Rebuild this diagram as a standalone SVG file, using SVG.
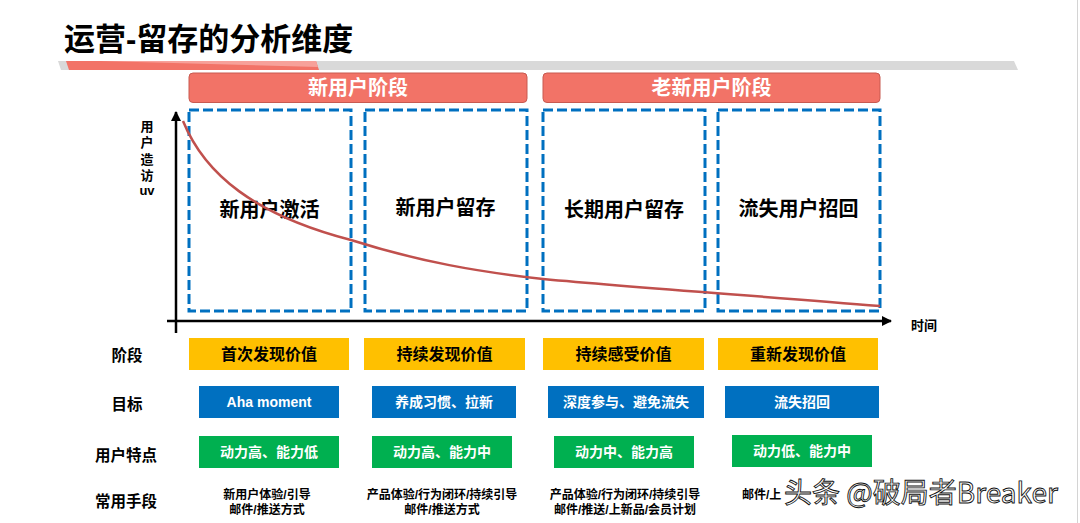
<svg xmlns="http://www.w3.org/2000/svg" width="1080" height="523" viewBox="0 0 1080 523">
<defs>
<style>
text{font-family:"Liberation Sans","Noto Sans CJK SC",sans-serif;font-weight:bold;dominant-baseline:central;text-anchor:middle}
.hdr{fill:#F27367;stroke:#C85A50;stroke-width:1}
.hdrt{fill:#fff;font-size:20px}
.dash{fill:none;stroke:#0070C0;stroke-width:3;stroke-dasharray:10 4}
.lbl{fill:#000;font-size:20px}
.row{fill:#000;font-size:15.5px}
.yel{fill:#FFC000}
.blu{fill:#0070C0}
.grn{fill:#00B050}
.yt{fill:#000;font-size:16px}
.wt{fill:#fff;font-size:14px}
.mt{fill:#000;font-size:12px}
.axis{stroke:#000;stroke-width:2.5;fill:none}
</style>
<marker id="arr" viewBox="0 0 10 10" refX="9" refY="5" markerWidth="4" markerHeight="4" orient="auto">
<path d="M0,0 L10,5 L0,10 Z" fill="#000"/>
</marker>
</defs>
<rect width="1080" height="523" fill="#fff"/>
<line x1="1077.5" y1="0" x2="1077.5" y2="523" stroke="#d4d4d4" stroke-width="1"/>

<g id="title">
<polygon points="58,61 1014,61 1018,70 61,70" fill="#D9D9D9"/>
<polygon points="66,61 316,61 319,70 69,70" fill="#F27367"/>
<polygon points="100,61 316,61 318,67" fill="#F7A19A"/>
<text x="64" y="39" style="text-anchor:start;font-size:31px;fill:#000">运营-留存的分析维度</text>
</g>

<g id="header-new">
<rect class="hdr" x="189" y="73" width="338" height="29.5" rx="4"/>
<text class="hdrt" x="358" y="88">新用户阶段</text>
</g>
<g id="header-old">
<rect class="hdr" x="543" y="73" width="337" height="29.5" rx="4"/>
<text class="hdrt" x="711.5" y="88">老新用户阶段</text>
</g>

<g id="box-activate">
<rect class="dash" x="189" y="110" width="162" height="201"/>
<text class="lbl" x="269.5" y="210">新用户激活</text>
</g>
<g id="box-retain">
<rect class="dash" x="365" y="110" width="162" height="201"/>
<text class="lbl" x="445.5" y="208">新用户留存</text>
</g>
<g id="box-longterm">
<rect class="dash" x="543" y="110" width="162" height="201"/>
<text class="lbl" x="624" y="210">长期用户留存</text>
</g>
<g id="box-recall">
<rect class="dash" x="718" y="110" width="162" height="201"/>
<text class="lbl" x="798.5" y="209">流失用户招回</text>
</g>

<g id="connectors">
<line class="axis" x1="176" y1="333" x2="176" y2="112" marker-end="url(#arr)"/>
<line class="axis" x1="167" y1="321" x2="891" y2="321" marker-end="url(#arr)"/>
<path d="M183,121 C205,175 255,215 351,240 C420,262 480,272 543,279 C640,288 760,296 880,306" fill="none" stroke="#C0504D" stroke-width="2.5"/>
</g>

<g id="axis-labels">
<text x="147" y="126" style="font-size:13px">用</text>
<text x="147" y="142" style="font-size:13px">户</text>
<text x="147" y="159" style="font-size:13px">造</text>
<text x="147" y="175" style="font-size:13px">访</text>
<text x="147" y="190" style="font-size:13px">uv</text>
<text x="924" y="325" style="font-size:13px">时间</text>
</g>

<g id="row-labels">
<text class="row" x="127" y="355">阶段</text>
<text class="row" x="127" y="404">目标</text>
<text class="row" x="126" y="455">用户特点</text>
<text class="row" x="126" y="501">常用手段</text>
</g>

<g id="stage-1"><rect class="yel" x="189" y="338" width="160" height="32"/><text class="yt" x="269" y="354">首次发现价值</text></g>
<g id="stage-2"><rect class="yel" x="364" y="338" width="161" height="32"/><text class="yt" x="444.5" y="354">持续发现价值</text></g>
<g id="stage-3"><rect class="yel" x="543" y="338" width="161" height="32"/><text class="yt" x="623.5" y="354">持续感受价值</text></g>
<g id="stage-4"><rect class="yel" x="718" y="338" width="160" height="32"/><text class="yt" x="798" y="354">重新发现价值</text></g>

<g id="goal-1"><rect class="blu" x="199" y="386" width="140" height="32"/><text class="wt" x="269" y="402">Aha moment</text></g>
<g id="goal-2"><rect class="blu" x="372" y="386" width="144" height="32"/><text class="wt" x="444" y="402">养成习惯、拉新</text></g>
<g id="goal-3"><rect class="blu" x="548" y="386" width="156" height="32"/><text class="wt" x="626" y="402">深度参与、避免流失</text></g>
<g id="goal-4"><rect class="blu" x="725" y="386" width="154" height="32"/><text class="wt" x="802" y="402">流失招回</text></g>

<g id="trait-1"><rect class="grn" x="199" y="436" width="140" height="32"/><text class="wt" x="269" y="452">动力高、能力低</text></g>
<g id="trait-2"><rect class="grn" x="372" y="436" width="140" height="32"/><text class="wt" x="442" y="452">动力高、能力中</text></g>
<g id="trait-3"><rect class="grn" x="554" y="436" width="140" height="32"/><text class="wt" x="624" y="452">动力中、能力高</text></g>
<g id="trait-4"><rect class="grn" x="732" y="435" width="140" height="32"/><text class="wt" x="802" y="451">动力低、能力中</text></g>

<g id="means-1"><text class="mt" x="267" y="495">新用户体验/引导</text><text class="mt" x="267" y="510">邮件/推送方式</text></g>
<g id="means-2"><text class="mt" x="442" y="495">产品体验/行为闭环/持续引导</text><text class="mt" x="442" y="510">邮件/推送方式</text></g>
<g id="means-3"><text class="mt" x="625" y="495">产品体验/行为闭环/持续引导</text><text class="mt" x="625" y="510">邮件/推送/上新品/会员计划</text></g>
<g id="means-4"><text class="mt" x="742" y="495" style="text-anchor:start">邮件/上</text></g>

<g id="watermark">
<text x="784" y="491" style="text-anchor:start;font-size:28px;font-weight:normal;fill:#fff;stroke:#111;stroke-width:0.9;font-family:'Noto Sans CJK SC','Liberation Sans',sans-serif">头条 @破局者Breaker</text>
</g>
</svg>
